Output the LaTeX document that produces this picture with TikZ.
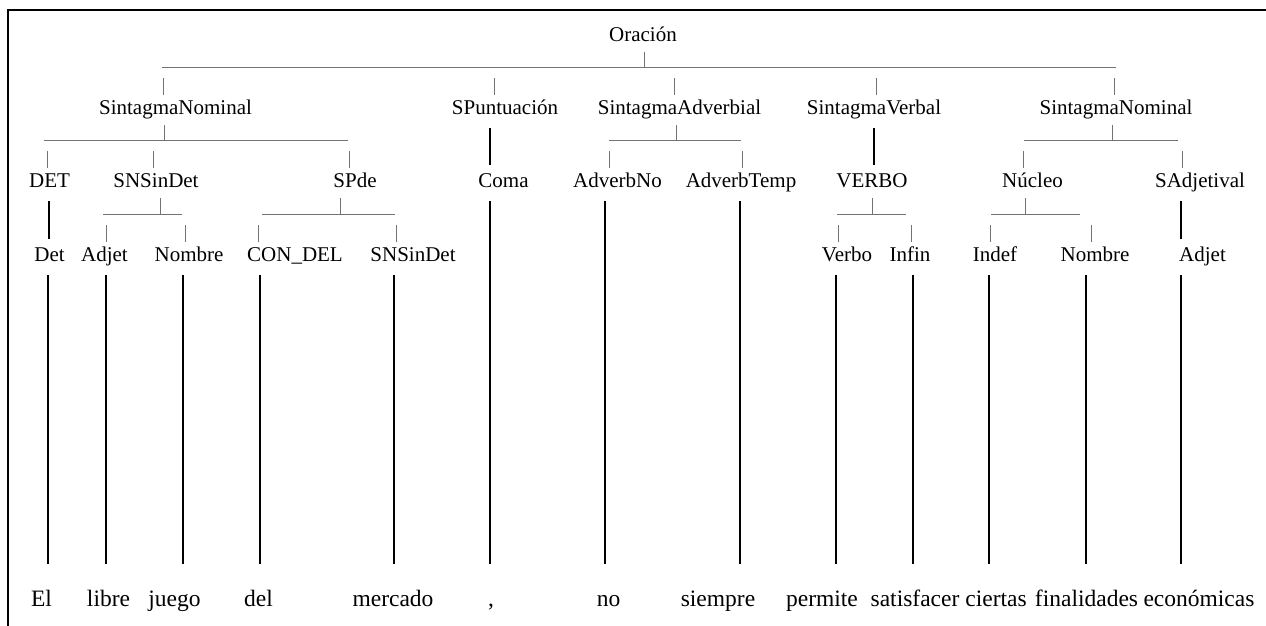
\documentclass[tikz,border=0pt]{standalone}
\usepackage{fontspec}
\setmainfont{Liberation Serif}
\begin{document}
\begin{tikzpicture}[x=1pt,y=1pt,
    etiq/.style={anchor=base,inner xsep=0pt,inner ysep=5pt,text height=15pt,text depth=5pt,font=\fontsize{21}{25}\selectfont},
    palabra/.style={anchor=base,inner xsep=0pt,inner ysep=24pt,text height=16pt,text depth=6pt,font=\fontsize{23.5}{28}\selectfont},
    rama/.style={draw=black!55,line width=0.9pt},
    tallo/.style={draw=black,line width=1.7pt,shorten <=3pt,shorten >=3pt}]
      \useasboundingbox (0,0) rectangle (1266,626);
      \draw[line width=2pt] (1266,615.5) -- (8,615.5) -- (8,0);

      \node[etiq] (orac) at (643,584.5) {Oración};

      \node[etiq] (sn1) at (175.5,511) {SintagmaNominal};
      \node[etiq] (spun) at (505,511) {SPuntuación};
      \node[etiq] (sadv) at (679.5,511) {SintagmaAdverbial};
      \node[etiq] (sverb) at (874,511) {SintagmaVerbal};
      \node[etiq] (sn2) at (1116,511) {SintagmaNominal};

      \node[etiq] (det) at (49.5,438) {DET};
      \node[etiq] (snsd) at (156,438) {SNSinDet};
      \node[etiq] (spde) at (355,438) {SPde};
      \node[etiq] (coma) at (503.5,438) {Coma};
      \node[etiq] (advno) at (617.5,438) {AdverbNo};
      \node[etiq] (advtemp) at (741,438) {AdverbTemp};
      \node[etiq] (verbo) at (872,438) {VERBO};
      \node[etiq] (nucleo) at (1032.5,438) {Núcleo};
      \node[etiq] (sadj) at (1200,438) {SAdjetival};

      \node[etiq] (det4) at (49.5,364) {Det};
      \node[etiq] (adj4) at (104.5,364) {Adjet};
      \node[etiq] (nom4) at (189,364) {Nombre};
      \node[etiq] (condel) at (295,364) {CON\textunderscore DEL};
      \node[etiq] (snsd4) at (413,364) {SNSinDet};
      \node[etiq] (verbo4) at (847,364) {Verbo};
      \node[etiq] (infin) at (910,364) {Infin};
      \node[etiq] (indef) at (995,364) {Indef};
      \node[etiq] (nom5) at (1095,364) {Nombre};
      \node[etiq] (adj5) at (1202.5,364) {Adjet};

      \node[palabra] (w1) at (41.5,19) {El};
      \node[palabra] (w2) at (108.5,19) {libre};
      \node[palabra] (w3) at (174.5,19) {juego};
      \node[palabra] (w4) at (258.5,19) {del};
      \node[palabra] (w5) at (393,19) {mercado};
      \node[palabra] (w6) at (491,19) {,};
      \node[palabra] (w7) at (608.5,19) {no};
      \node[palabra] (w8) at (718,19) {siempre};
      \node[palabra] (w9) at (822,19) {permite};
      \node[palabra] (w10) at (915,19) {satisfacer};
      \node[palabra] (w11) at (996,19) {ciertas};
      \node[palabra] (w12) at (1086.5,19) {finalidades};
      \node[palabra] (w13) at (1199,19) {económicas};

      \draw[rama] ([xshift=1pt]orac.south) -- ++(0,-16);
      \draw[rama] ([xshift=-13.5pt,yshift=27.5pt]sn1.north) -- ([yshift=27.5pt]sn2.north);
      \draw[rama] ([xshift=-12.5pt]sn1.north) -- ++(0,17);
      \draw[rama] ([xshift=-11pt]spun.north) -- ++(0,17);
      \draw[rama] ([xshift=-5.5pt]sadv.north) -- ++(0,17);
      \draw[rama] ([xshift=2pt]sverb.north) -- ++(0,17);
      \draw[rama] ([xshift=-2pt]sn2.north) -- ++(0,17);

      \draw[rama] ([xshift=-11.5pt]sn1.south) -- ++(0,-16);
      \draw[rama] ([xshift=-5.5pt,yshift=27.5pt]det.north) -- ([xshift=-7pt,yshift=27.5pt]spde.north);
      \draw[rama] ([xshift=-2.5pt]det.north) -- ++(0,17);
      \draw[rama] ([xshift=-3pt]snsd.north) -- ++(0,17);
      \draw[rama] ([xshift=-6pt]spde.north) -- ++(0,17);
      \draw[tallo] ([xshift=-15pt]spun.south) -- ([xshift=-13.5pt]coma.north);
      \draw[rama] ([xshift=-3.5pt]sadv.south) -- ++(0,-16);
      \draw[rama] ([xshift=-8.5pt,yshift=27.5pt]advno.north) -- ([yshift=27.5pt]advtemp.north);
      \draw[rama] ([xshift=-8.5pt]advno.north) -- ++(0,17);
      \draw[rama] ([xshift=1pt]advtemp.north) -- ++(0,17);
      \draw[tallo] (sverb.south) -- ([xshift=2pt]verbo.north);
      \draw[rama] ([xshift=-4pt]sn2.south) -- ++(0,-16);
      \draw[rama] ([xshift=-8.5pt,yshift=27.5pt]nucleo.north) -- ([xshift=-22pt,yshift=27.5pt]sadj.north);
      \draw[rama] ([xshift=-9.5pt]nucleo.north) -- ++(0,17);
      \draw[rama] ([xshift=-18pt]sadj.north) -- ++(0,17);

      \draw[tallo] ([xshift=-0.5pt]det.south) -- ([xshift=-0.5pt]det4.north);
      \draw[rama] ([xshift=4pt]snsd.south) -- ++(0,-16);
      \draw[rama] ([xshift=-1.5pt,yshift=27.5pt]adj4.north) -- ([xshift=-7pt,yshift=27.5pt]nom4.north);
      \draw[rama] ([xshift=1.5pt]adj4.north) -- ++(0,17);
      \draw[rama] ([xshift=-4pt]nom4.north) -- ++(0,17);
      \draw[rama] ([xshift=-15pt]spde.south) -- ++(0,-16);
      \draw[rama] ([xshift=-33pt,yshift=27.5pt]condel.north) -- ([xshift=-18pt,yshift=27.5pt]snsd4.north);
      \draw[rama] ([xshift=-37pt]condel.north) -- ++(0,17);
      \draw[rama] ([xshift=-17pt]snsd4.north) -- ++(0,17);
      \draw[tallo] ([xshift=-13.5pt]coma.south) -- ([xshift=-1pt]w6.north);
      \draw[tallo] ([xshift=-12.5pt]advno.south) -- ([xshift=-3.5pt]w7.north);
      \draw[tallo] ([xshift=-1pt]advtemp.south) -- ([xshift=22pt]w8.north);
      \draw[rama] (verbo.south) -- ++(0,-16);
      \draw[rama] ([xshift=-10pt,yshift=27.5pt]verbo4.north) -- ([xshift=-4pt,yshift=27.5pt]infin.north);
      \draw[rama] ([xshift=-9pt]verbo4.north) -- ++(0,17);
      \draw[rama] ([xshift=1pt]infin.north) -- ++(0,17);
      \draw[rama] ([xshift=-7.5pt]nucleo.south) -- ++(0,-16);
      \draw[rama] ([xshift=-4pt,yshift=27.5pt]indef.north) -- ([xshift=-15pt,yshift=27.5pt]nom5.north);
      \draw[rama] ([xshift=-5pt]indef.north) -- ++(0,17);
      \draw[rama] ([xshift=-4pt]nom5.north) -- ++(0,17);
      \draw[tallo] ([xshift=-19pt]sadj.south) -- ([xshift=-21.5pt]adj5.north);

      \draw[tallo] ([xshift=-1.5pt]det4.south) -- ([xshift=6.5pt]w1.north);
      \draw[tallo] ([xshift=1.5pt]adj4.south) -- ([xshift=-2.5pt]w2.north);
      \draw[tallo] ([xshift=-6pt]nom4.south) -- ([xshift=8.5pt]w3.north);
      \draw[tallo] ([xshift=-35pt]condel.south) -- ([xshift=1.5pt]w4.north);
      \draw[tallo] ([xshift=-19pt]snsd4.south) -- ([xshift=1pt]w5.north);
      \draw[tallo] ([xshift=-11pt]verbo4.south) -- ([xshift=14pt]w9.north);
      \draw[tallo] ([xshift=3pt]infin.south) -- ([xshift=-2pt]w10.north);
      \draw[tallo] ([xshift=-6pt]indef.south) -- ([xshift=-7pt]w11.north);
      \draw[tallo] ([xshift=-9pt]nom5.south) -- ([xshift=-0.5pt]w12.north);
      \draw[tallo] ([xshift=-21.5pt]adj5.south) -- ([xshift=-18pt]w13.north);
    \end{tikzpicture}
\end{document}
